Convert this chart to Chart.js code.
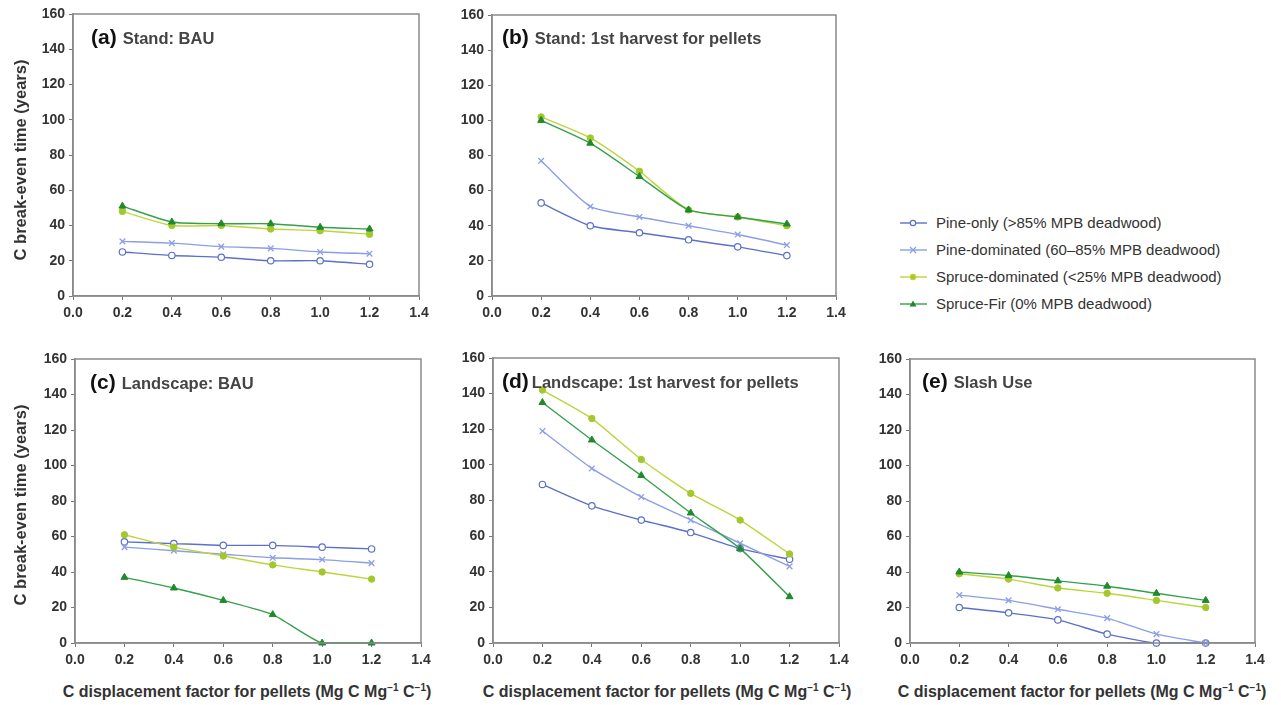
<!DOCTYPE html>
<html lang="en">
<head>
<meta charset="UTF-8">
<script src="https://cdn.jsdelivr.net/npm/chart.js"></script>
<title>C break-even time</title>
<style>
  body { margin: 0; background: #fff; font-family: "Liberation Sans", Arial, sans-serif; }
  #page { position: relative; width: 1281px; height: 705px; overflow: hidden; }
  .box { position: absolute; }
  .lab { position: absolute; font-weight: bold; white-space: nowrap; line-height: 1; }
  .lab b { font-size: 21px; color: #111; }
  .lab span { font-size: 16.5px; color: #444; margin-left: 6px; }
  .ytitle { position: absolute; font-weight: bold; font-size: 16.5px; color: #333; white-space: nowrap;
            transform: translate(-50%, -50%) rotate(-90deg); }
  .xtitle { position: absolute; font-weight: bold; font-size: 16px; color: #333; white-space: nowrap;
            transform: translateX(-50%); line-height: 1; }
  .xtitle sup { font-size: 10px; }
  .legend { position: absolute; left: 900px; top: 209px; font-size: 15px; color: #333; }
  .legend div { height: 27px; display: flex; align-items: center; }
  .legend svg { margin-right: 9px; }
</style>
</head>
<body>
<div id="page">
  <div class="box" style="left:0;top:0;width:440px;height:330px"><canvas id="ga"></canvas></div>
  <div class="box" style="left:440px;top:0;width:420px;height:330px"><canvas id="gb"></canvas></div>
  <div class="box" style="left:0;top:340px;width:440px;height:340px"><canvas id="gc"></canvas></div>
  <div class="box" style="left:440px;top:340px;width:420px;height:340px"><canvas id="gd"></canvas></div>
  <div class="box" style="left:860px;top:340px;width:421px;height:340px"><canvas id="ge"></canvas></div>

  <div class="lab" style="left:91px;top:26px"><b>(a)</b><span>Stand: BAU</span></div>
  <div class="lab" style="left:502px;top:26px"><b>(b)</b><span>Stand: 1st harvest for pellets</span></div>
  <div class="lab" style="left:90px;top:371px"><b>(c)</b><span>Landscape: BAU</span></div>
  <div class="lab" style="left:502px;top:370px"><b>(d)</b><span style="margin-left:3px">Landscape: 1st harvest for pellets</span></div>
  <div class="lab" style="left:922px;top:370px"><b>(e)</b><span>Slash Use</span></div>

  <div class="ytitle" style="left:20px;top:160px">C break-even time (years)</div>
  <div class="ytitle" style="left:20px;top:505px">C break-even time (years)</div>

  <div class="xtitle" style="left:247px;top:683px">C displacement factor for pellets (Mg C Mg<sup>−1</sup> C<sup>−1</sup>)</div>
  <div class="xtitle" style="left:667px;top:683px">C displacement factor for pellets (Mg C Mg<sup>−1</sup> C<sup>−1</sup>)</div>
  <div class="xtitle" style="left:1082px;top:683px">C displacement factor for pellets (Mg C Mg<sup>−1</sup> C<sup>−1</sup>)</div>

  <div class="legend" id="legend"></div>
</div>

<script>
// data
var xValues = [0.2, 0.4, 0.6, 0.8, 1.0, 1.2];
var yTicks = [0, 20, 40, 60, 80, 100, 120, 140, 160];
var xTicks = [0.0, 0.2, 0.4, 0.6, 0.8, 1.0, 1.2, 1.4];

var seriesNames = [
  'Pine-only (>85% MPB deadwood)',
  'Pine-dominated (60–85% MPB deadwood)',
  'Spruce-dominated (<25% MPB deadwood)',
  'Spruce-Fir (0% MPB deadwood)'
];

// (a) Stand: BAU
var standBauPineOnly   = [25, 23, 22, 20, 20, 18];
var standBauPineDom    = [31, 30, 28, 27, 25, 24];
var standBauSpruceDom  = [48, 40, 40, 38, 37, 35];
var standBauSpruceFir  = [51, 42, 41, 41, 39, 38];

// (b) Stand: 1st harvest for pellets
var standHarvPineOnly  = [53, 40, 36, 32, 28, 23];
var standHarvPineDom   = [77, 51, 45, 40, 35, 29];
var standHarvSpruceDom = [102, 90, 71, 49, 45, 40];
var standHarvSpruceFir = [100, 87, 68, 49, 45, 41];

// (c) Landscape: BAU
var landBauPineOnly    = [57, 56, 55, 55, 54, 53];
var landBauPineDom     = [54, 52, 50, 48, 47, 45];
var landBauSpruceDom   = [61, 54, 49, 44, 40, 36];
var landBauSpruceFir   = [37, 31, 24, 16, 0, 0];

// (d) Landscape: 1st harvest for pellets
var landHarvPineOnly   = [89, 77, 69, 62, 53, 47];
var landHarvPineDom    = [119, 98, 82, 69, 56, 43];
var landHarvSpruceDom  = [142, 126, 103, 84, 69, 50];
var landHarvSpruceFir  = [135, 114, 94, 73, 53, 26];

// (e) Slash use
var slashPineOnly      = [20, 17, 13, 5, 0, 0];
var slashPineDom       = [27, 24, 19, 14, 5, 0];
var slashSpruceDom     = [39, 36, 31, 28, 24, 20];
var slashSpruceFir     = [40, 38, 35, 32, 28, 24];

var styles = [
  { line: '#5d70c8', fill: '#ffffff', shape: 'circle',   r: 3.2, w: 1.2 },
  { line: '#8c9fe4', fill: '#8c9fe4', shape: 'crossRot', r: 4,   w: 1.3 },
  { line: '#bcd63a', fill: '#a3c72c', shape: 'circle',   r: 3.2, w: 1 },
  { line: '#35a04c', fill: '#1f8a2c', shape: 'triangle', r: 4,   w: 1 }
];

function pts(arr) {
  return arr.map(function (v, i) { return { x: xValues[i], y: v }; });
}

var framePlugin = {
  id: 'frame',
  afterDraw: function (chart) {
    var a = chart.chartArea, c = chart.ctx;
    c.save();
    c.strokeStyle = '#8a8a8a';
    c.lineWidth = 1.5;
    c.strokeRect(a.left, a.top, a.right - a.left, a.bottom - a.top);
    c.restore();
  }
};

function grafico(id, series, yWidth, padTop, padRight, xHeight) {
  var sets = series.map(function (s, i) {
    var st = styles[i];
    return {
      label: seriesNames[i],
      data: pts(s),
      borderColor: st.line,
      backgroundColor: st.fill,
      pointBorderColor: i == 0 ? st.line : st.fill,
      pointBackgroundColor: st.fill,
      pointStyle: st.shape,
      pointRadius: st.r,
      pointBorderWidth: st.w,
      borderWidth: 1.4,
      tension: 0.2,
      clip: false
    };
  });
  // greens drawn first, blues on top
  sets = [sets[3], sets[2], sets[1], sets[0]];

  new Chart(document.getElementById(id), {
    type: 'line',
    data: { datasets: sets },
    options: {
      responsive: true,
      maintainAspectRatio: false,
      animation: false,
      layout: { padding: { top: padTop, right: padRight, left: 0, bottom: 0 } },
      plugins: { legend: { display: false }, tooltip: { enabled: false } },
      scales: {
        x: {
          type: 'linear', min: 0, max: 1.4,
          afterBuildTicks: function (s) { s.ticks = xTicks.map(function (v) { return { value: v }; }); },
          afterFit: function (s) { s.height = xHeight; },
          ticks: {
            font: { family: 'Liberation Sans', size: 14, weight: 'bold' },
            color: '#333', padding: 5, maxRotation: 0, autoSkip: false,
            callback: function (v) { return v.toFixed(1); }
          },
          grid: { drawOnChartArea: false, tickLength: 4, color: '#777' },
          border: { color: '#8a8a8a', width: 1.5 }
        },
        y: {
          min: 0, max: 160,
          afterBuildTicks: function (s) { s.ticks = yTicks.map(function (v) { return { value: v }; }); },
          afterFit: function (s) { s.width = yWidth; },
          ticks: {
            font: { family: 'Liberation Sans', size: 14, weight: 'bold' },
            color: '#333', padding: 4, autoSkip: false
          },
          grid: { drawOnChartArea: false, tickLength: 4, color: '#777' },
          border: { color: '#8a8a8a', width: 1.5 }
        }
      }
    },
    plugins: [framePlugin]
  });
}

grafico('ga', [standBauPineOnly, standBauPineDom, standBauSpruceDom, standBauSpruceFir], 73, 14, 21, 34);
grafico('gb', [standHarvPineOnly, standHarvPineDom, standHarvSpruceDom, standHarvSpruceFir], 52, 15, 24, 34);
grafico('gc', [landBauPineOnly, landBauPineDom, landBauSpruceDom, landBauSpruceFir], 75, 19, 19, 37);
grafico('gd', [landHarvPineOnly, landHarvPineDom, landHarvSpruceDom, landHarvSpruceFir], 53, 18, 21, 37);
grafico('ge', [slashPineOnly, slashPineDom, slashSpruceDom, slashSpruceFir], 50, 19, 26, 37);

// legend
function legendIcon(st) {
  var m = '';
  if (st.shape == 'circle') {
    m = '<circle cx="13" cy="7" r="' + (st.r - 0.5) + '" fill="' + st.fill + '" stroke="' + st.line + '" stroke-width="1.2"/>';
  } else if (st.shape == 'crossRot') {
    m = '<path d="M10 4 L16 10 M16 4 L10 10" stroke="' + st.line + '" stroke-width="1.3"/>';
  } else {
    m = '<path d="M13 3.5 L16.5 9.5 L9.5 9.5 Z" fill="' + st.fill + '"/>';
  }
  return '<svg width="27" height="14"><line x1="0" y1="7" x2="27" y2="7" stroke="' + st.line + '" stroke-width="1.4"/>' + m + '</svg>';
}
var html = '';
for (var i = 0; i < seriesNames.length; i++) {
  var txt = seriesNames[i].replace('<', '&lt;').replace('>', '&gt;');
  html += '<div>' + legendIcon(styles[i]) + txt + '</div>';
}
document.getElementById('legend').innerHTML = html;
</script>
</body>
</html>
